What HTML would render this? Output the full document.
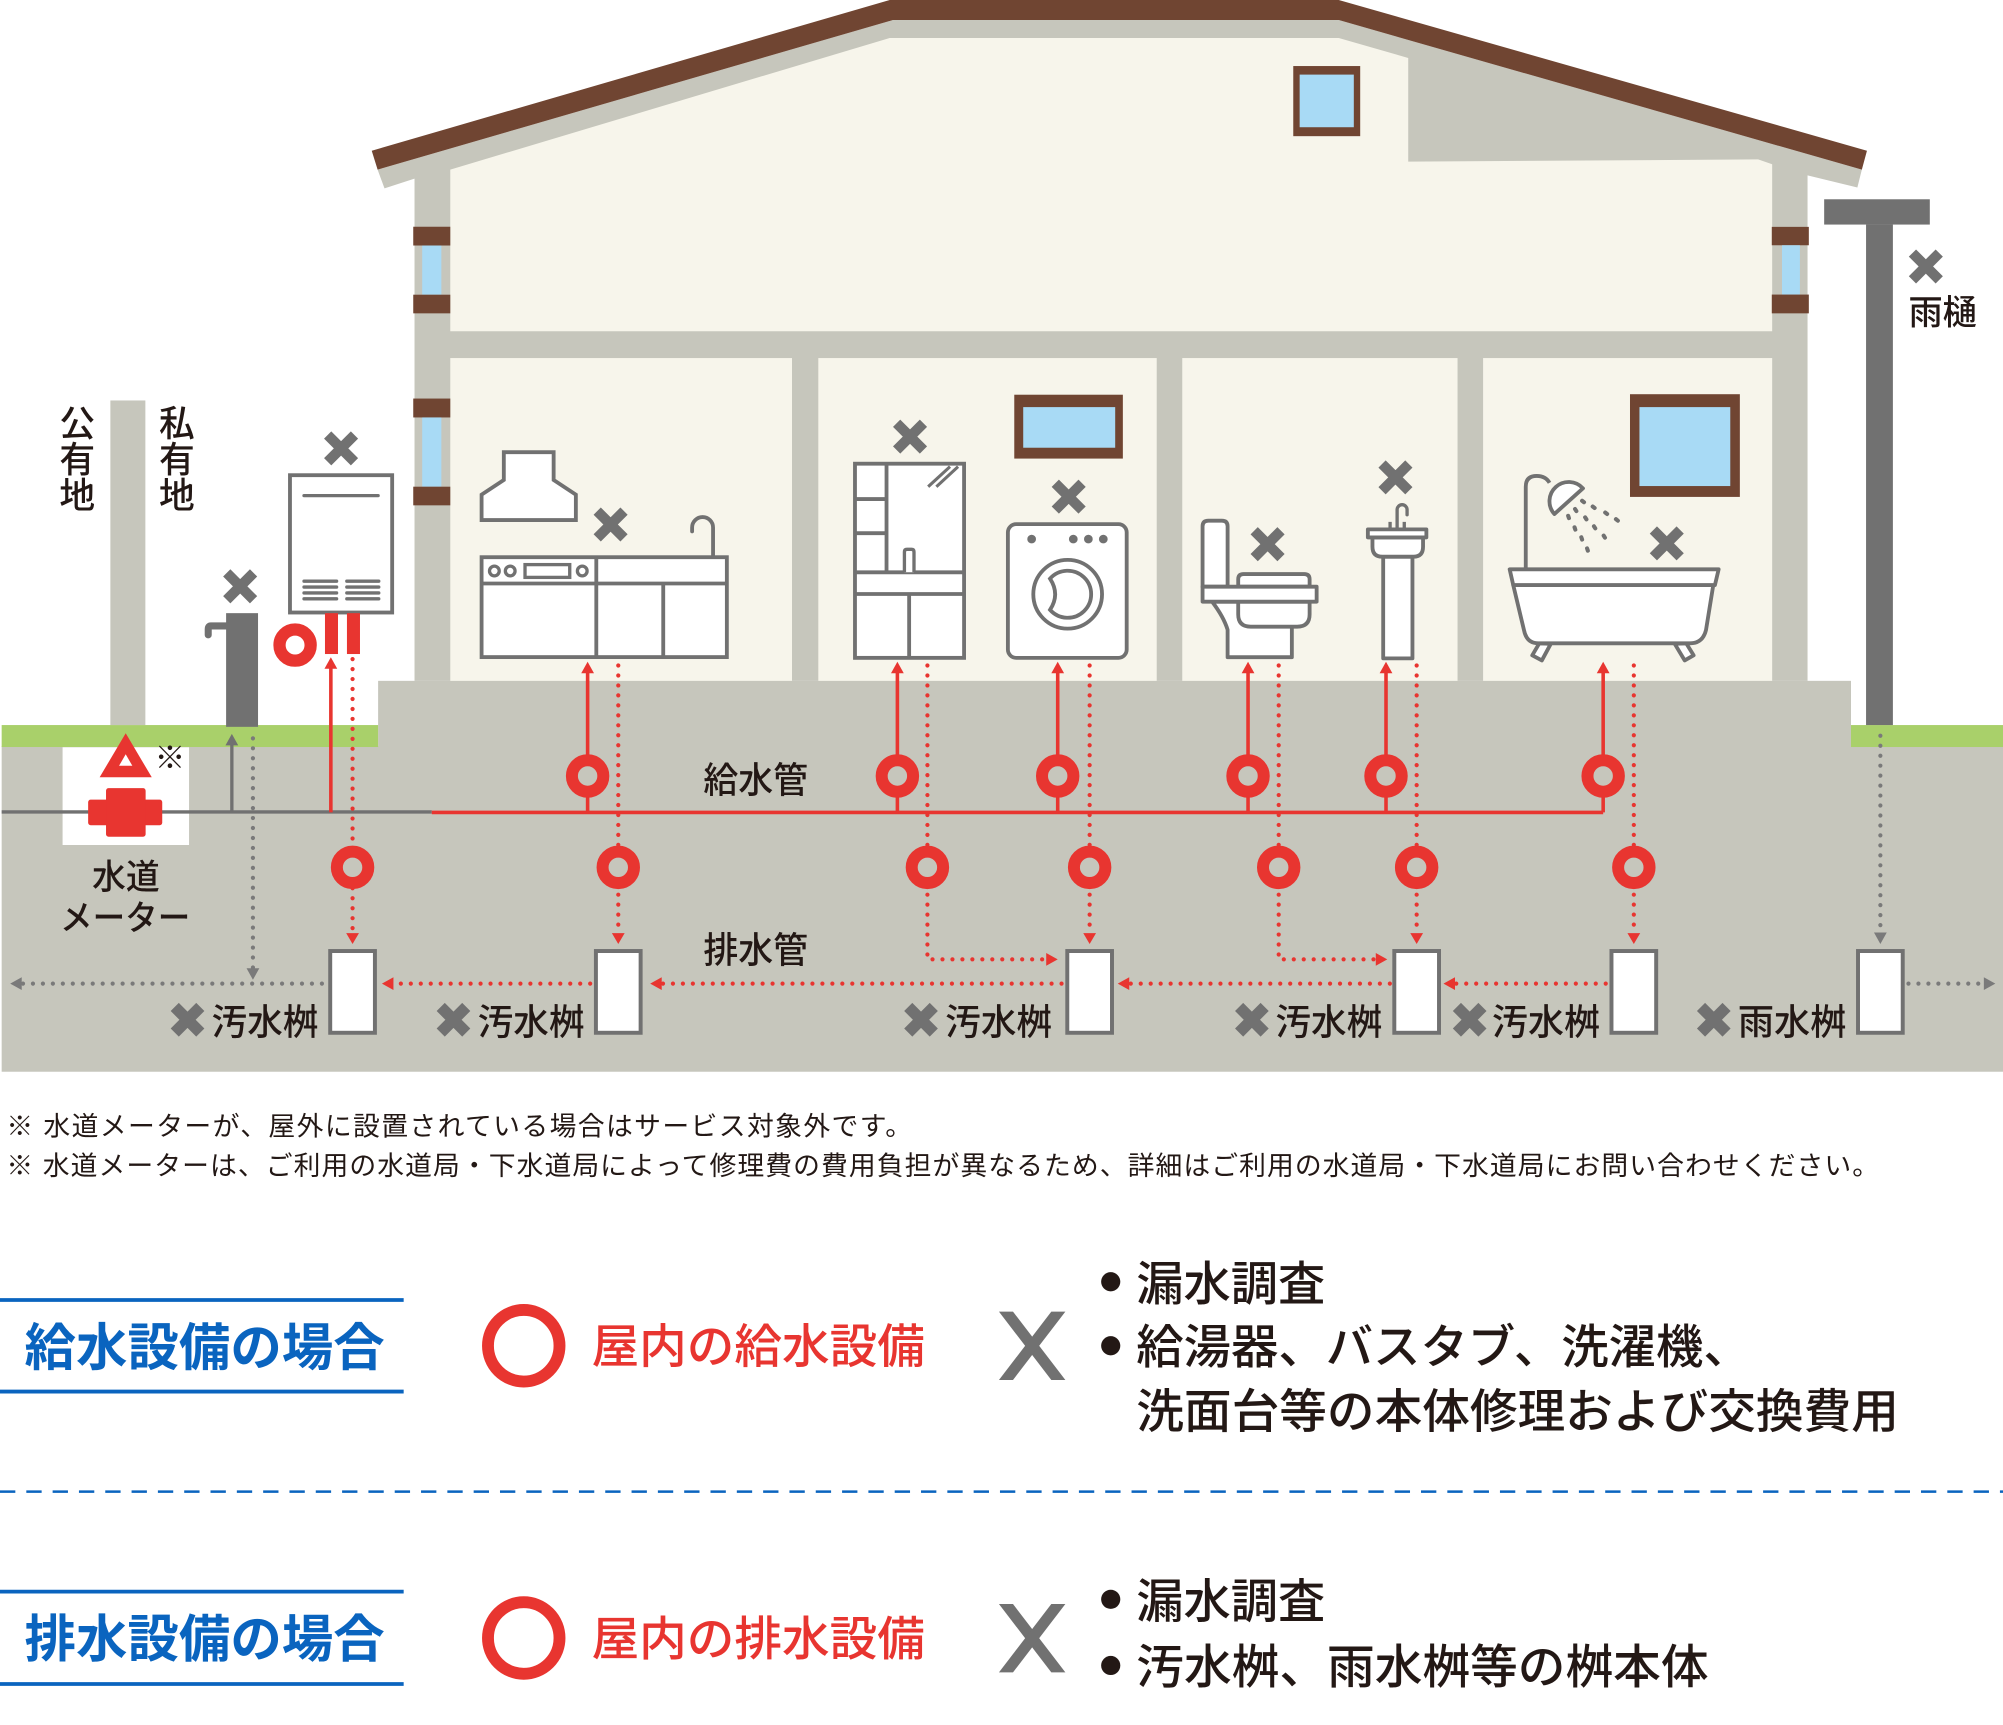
<!DOCTYPE html>
<html><head><meta charset="utf-8">
<style>
html,body{margin:0;padding:0;background:#fff;width:2003px;height:1725px;overflow:hidden;}
svg{display:block;}
text{font-family:"Liberation Sans","Noto Sans CJK JP",sans-serif;}
</style></head><body>
<svg width="2003" height="1725" viewBox="0 0 1568 1350.4" preserveAspectRatio="none" xmlns="http://www.w3.org/2000/svg">
<rect width="1568" height="1351" fill="#fff"/>

<!-- ground -->
<rect x="1.3" y="584" width="1566.7" height="255" fill="#c6c6bc"/>
<rect x="296" y="533" width="1153" height="52" fill="#c6c6bc"/>
<rect x="1.3" y="567.6" width="294.7" height="17.2" fill="#a9d06a"/>
<rect x="1449" y="567.6" width="119" height="17.2" fill="#a9d06a"/>

<!-- house body -->
<polygon fill="#c6c6bc" points="295.6,132.8 699,15.7 1048,15.7 1457.5,132.8 1454,146.8 1415,137.3 1415,533 324.5,533 324.5,139.8 301,147.5"/>
<polygon fill="#f7f5eb" points="352.5,132.8 696.5,29.7 1048,29.7 1102.4,45.4 1102.4,126.5 1376.3,124.8 1387.3,128.6 1387.3,259.3 352.5,259.3"/>
<rect fill="#f7f5eb" x="352.5" y="280.3" width="267.5" height="252.7"/>
<rect fill="#f7f5eb" x="640.6" y="280.3" width="264.9" height="252.7"/>
<rect fill="#f7f5eb" x="925.5" y="280.3" width="215.5" height="252.7"/>
<rect fill="#f7f5eb" x="1161" y="280.3" width="226.3" height="252.7"/>
<polygon fill="#704532" points="291,118 696.5,0 1048,0 1461.5,118 1457.5,132.8 1048,15.7 699,15.7 295.6,132.8"/>

<!-- wall windows left -->
<rect x="323.5" y="177.5" width="29" height="14.7" fill="#704532"/>
<rect x="330.5" y="192.2" width="15" height="38.5" fill="#a8daf5"/>
<rect x="323.5" y="230.7" width="29" height="14.6" fill="#704532"/>
<rect x="323.5" y="312" width="29" height="14.8" fill="#704532"/>
<rect x="330.5" y="326.8" width="15" height="54.2" fill="#a8daf5"/>
<rect x="323.5" y="381" width="29" height="14.6" fill="#704532"/>
<!-- wall windows right -->
<rect x="1387" y="177.6" width="29" height="14.4" fill="#704532"/>
<rect x="1395" y="192" width="14" height="38.6" fill="#a8daf5"/>
<rect x="1387" y="230.6" width="29" height="14.7" fill="#704532"/>
<!-- upper window -->
<rect x="1012.4" y="51.7" width="52.4" height="54.9" fill="#704532"/>
<rect x="1017.4" y="58.4" width="42.4" height="41.2" fill="#a8daf5"/>
<!-- washer window -->
<rect x="794" y="309" width="85" height="50" fill="#704532"/>
<rect x="801" y="318.7" width="72" height="31.8" fill="#a8daf5"/>
<!-- bath window -->
<rect x="1276" y="308.6" width="86" height="80.4" fill="#704532"/>
<rect x="1283.4" y="318.7" width="71.1" height="61.8" fill="#a8daf5"/>

<!-- boundary pole -->
<rect x="86.4" y="313.5" width="27.4" height="254.1" fill="#c6c6bc"/>
<g font-size="28" font-weight="500" fill="#231815" text-anchor="middle">
<text x="60.5" y="341.5">公</text><text x="60.5" y="369.5">有</text><text x="60.5" y="397.5">地</text>
<text x="138.5" y="341.5">私</text><text x="138.5" y="369.5">有</text><text x="138.5" y="397.5">地</text>
</g>

<!-- gutter -->
<rect x="1428" y="156" width="82.7" height="19.8" fill="#717171"/>
<rect x="1460.8" y="175.8" width="21" height="391.8" fill="#717171"/>
<text x="1494" y="254" font-size="27" font-weight="500" fill="#231815" textLength="53.5" lengthAdjust="spacingAndGlyphs">雨樋</text>

<!-- water heater -->
<g fill="#fff" stroke="#717171" stroke-width="3">
<rect x="227" y="372" width="80" height="107.5"/>
</g>
<g stroke="#717171" stroke-width="2.6" stroke-linecap="round">
<line x1="238" y1="388" x2="296" y2="388"/>
<path d="M238,455 H263.5 M238,459.6 H263.5 M238,464.2 H263.5 M238,468.8 H263.5 M271.5,455 H296.5 M271.5,459.6 H296.5 M271.5,464.2 H296.5 M271.5,468.8 H296.5"/>
</g>
<!-- red icon -->
<circle cx="231" cy="505" r="12.2" fill="#fff" stroke="#e83530" stroke-width="9.6"/>
<rect x="254.4" y="480" width="10.2" height="32" fill="#e83530"/>
<rect x="271.6" y="480" width="10.2" height="32" fill="#e83530"/>

<!-- outdoor faucet -->
<rect x="177" y="480" width="25" height="89" fill="#717171"/>
<path d="M178,490 H165 Q163,490 163,492.5 V497" fill="none" stroke="#717171" stroke-width="5.5" stroke-linecap="round"/>

<!-- kitchen -->
<g fill="#fff" stroke="#717171" stroke-width="3">
<path d="M394.4,354 H433.4 V375.7 L450.8,387.2 V407.1 H377 V387.2 L394.4,375.7 Z"/>
<rect x="377" y="436.2" width="192" height="78.2"/>
<line x1="377" y1="456.8" x2="569" y2="456.8"/>
<line x1="466.8" y1="436.2" x2="466.8" y2="514.4"/>
<line x1="519.2" y1="456.8" x2="519.2" y2="514.4"/>
<circle cx="387" cy="447" r="3.8" stroke-width="2.6"/>
<circle cx="399.4" cy="447" r="3.8" stroke-width="2.6"/>
<rect x="411" y="442" width="35" height="10" stroke-width="2.6"/>
<circle cx="455.8" cy="447" r="3.8" stroke-width="2.6"/>
<path d="M558.2,436 V413 A8.2,8.2 0 0 0 541.8,413 V416" fill="none" stroke-linecap="round"/>
</g>

<!-- vanity -->
<g fill="#fff" stroke="#717171" stroke-width="3">
<rect x="669.3" y="363" width="85.4" height="152"/>
<line x1="694" y1="363" x2="694" y2="448"/>
<line x1="669.3" y1="390.7" x2="694" y2="390.7"/>
<line x1="669.3" y1="417.4" x2="694" y2="417.4"/>
<line x1="669.3" y1="448" x2="754.7" y2="448"/>
<line x1="669.3" y1="465" x2="754.7" y2="465"/>
<line x1="711.7" y1="465" x2="711.7" y2="515"/>
<path d="M708,448 V432 Q708,430 710,430 H713.5 Q715.5,430 715.5,432 V448" stroke-width="2.6"/>
<path d="M726.6,381 L743.7,365.3 M733,381 L750,365.3" stroke-width="2.4"/>
</g>

<!-- washer -->
<g fill="#fff" stroke="#717171" stroke-width="3">
<rect x="789" y="410.3" width="93" height="104.7" rx="6.5"/>
<circle cx="835.8" cy="465.2" r="26.9"/>
<path d="M822,453 A18.4,18.4 0 1 1 822,477.4 Q830,465.2 822,453 Z"/>
</g>
<g fill="#717171">
<circle cx="807.6" cy="422" r="3.4"/><circle cx="840.2" cy="422" r="3.4"/><circle cx="852" cy="422" r="3.4"/><circle cx="863.7" cy="422" r="3.4"/>
</g>

<!-- toilet -->
<g fill="#fff" stroke="#717171" stroke-width="3" stroke-linejoin="round">
<path d="M948.9,471 Q958,483 961,493 V514.5 H1011.3 V471 Z"/>
<path d="M969.3,471 V481 Q969.3,490.6 979,490.6 H1015.5 Q1025.2,490.6 1025.2,481 V471 Z"/>
<path d="M941.4,459.3 V412 Q941.4,407.6 946,407.6 H956.5 Q961,407.6 961,412 V459.3 Z"/>
<path d="M969.3,459.3 V453.5 Q969.3,449.4 973.5,449.4 H1021 Q1025.2,449.4 1025.2,453.5 V459.3 Z"/>
<rect x="941.4" y="459.3" width="89.3" height="11.7"/>
</g>

<!-- sink -->
<g fill="#fff" stroke="#717171" stroke-width="3" stroke-linejoin="round">
<rect x="1082.8" y="435.8" width="22.9" height="79.6"/>
<path d="M1074.4,420.7 V428 Q1074.4,435.8 1082,435.8 H1106.5 Q1114,435.8 1114,428 V420.7 Z"/>
<rect x="1070.8" y="414.4" width="45.8" height="6.3"/>
<path d="M1093.7,414.4 V399 A3.9,3.9 0 0 1 1101.5,399 V403" fill="none" stroke-linecap="round" stroke-width="2.6"/>
<path d="M1088.2,408.5 V414.4 M1099.3,408.5 V414.4" stroke-width="2.6"/>
</g>

<!-- bath -->
<g fill="#fff" stroke="#717171" stroke-width="3" stroke-linejoin="round">
<polygon points="1205,503.6 1199.5,513 1207,517 1214,504"/>
<polygon points="1311,504 1318.8,517 1325.8,513 1320,503.6"/>
<path d="M1184.6,458 L1193,493.2 Q1195,503.6 1204.2,503.6 H1323 Q1333,503.6 1335.5,493.2 L1341.2,458 Z"/>
<polygon points="1181.8,445.7 1345.4,445.7 1342.5,458 1184.6,458"/>
<path d="M1194.4,445.7 V381 Q1194.4,372.6 1203,372.6 Q1210,372.6 1213,378" fill="none"/>
<path d="M1216.8,402.4 L1239.2,382.3 A15,15 0 0 0 1216.8,402.4 Z"/>
</g>
<g stroke="#717171" stroke-width="3.2" stroke-linecap="round">
<path d="M1238.5,392 l1.5,1.2 M1246.8,396.5 l1.5,1.2 M1256.6,401.2 l1.5,1.2 M1265,406.4 l1.5,1.2"/>
<path d="M1233,398.5 l1,1.6 M1240.9,405 l1,1.6 M1247.8,412 l1,1.6 M1255.4,419.3 l1,1.6"/>
<path d="M1227.6,403.8 l0.6,1.8 M1232.6,412.8 l0.6,1.8 M1237.9,420.6 l0.6,1.8 M1242.4,429.3 l0.6,1.8"/>
</g>

<!-- fixture X marks -->
<path fill="none" stroke="#717171" stroke-width="8" d="M256.5,340.5L277.5,361.5M277.5,340.5L256.5,361.5
M177.5,448.5L198.5,469.5M198.5,448.5L177.5,469.5
M467.5,400.1L488.5,421.1M488.5,400.1L467.5,421.1
M701.9,331.3L722.9,352.3M722.9,331.3L701.9,352.3
M826.1,378.3L847.1,399.3M847.1,378.3L826.1,399.3
M981.8,415.5L1002.8,436.5M1002.8,415.5L981.8,436.5
M1081.9,363.2L1102.9,384.2M1102.9,363.2L1081.9,384.2
M1294.3,414.9L1315.3,435.9M1315.3,414.9L1294.3,435.9
M1497.1,198.1L1518.1,219.1M1518.1,198.1L1497.1,219.1"/>

<!-- water meter -->
<rect x="49" y="585" width="99" height="76.5" fill="#fff"/>
<line x1="1.3" y1="635.6" x2="338" y2="635.6" stroke="#717171" stroke-width="2.6"/>
<polygon points="98.4,574 78,608.5 118.8,608.5" fill="#e83530"/>
<polygon points="98.4,590.5 93.2,599.5 103.6,599.5" fill="#fff"/>
<rect x="69" y="626" width="58" height="20" rx="2" fill="#e83530"/>
<rect x="83" y="617" width="31" height="38" rx="2" fill="#e83530"/>
<text x="121" y="601.5" font-size="24" fill="#231815">※</text>
<text x="72" y="696" font-size="27" font-weight="500" fill="#231815" textLength="53" lengthAdjust="spacingAndGlyphs">水道</text>
<text x="47" y="728" font-size="27" font-weight="500" fill="#231815" textLength="102" lengthAdjust="spacingAndGlyphs">メーター</text>

<!-- gray pipes -->
<path d="M181.5,635.6 V583" stroke="#717171" stroke-width="2.6" fill="none"/>
<polygon points="176.5,583.5 186.5,583.5 181.5,574.5" fill="#717171"/>
<g fill="none" stroke="#7a7a7a" stroke-width="3.3" stroke-linecap="round" stroke-dasharray="0 7.8">
<path d="M198,578 V758"/>
<path d="M252,770 H17"/>
<path d="M1472,576 V730"/>
<path d="M1494,770 H1553"/>
</g>
<g fill="#7a7a7a">
<polygon points="193,758 203,758 198,767"/>
<polygon points="17,765 17,775 8,770"/>
<polygon points="1467,730 1477,730 1472,739"/>
<polygon points="1553,765 1553,775 1562,770"/>
</g>

<!-- supply pipes -->
<g fill="none" stroke="#e83530" stroke-width="2.8">
<path d="M338,636 H1255"/>
<path d="M259,636 V523"/>
<path d="M460,636 V526 M702.5,636 V526 M828,636 V526 M977,636 V526 M1085,636 V526 M1255,636 V526"/>
</g>
<g fill="#e83530">
<polygon points="254,523.5 264,523.5 259,514.5"/>
<polygon points="455,527 465,527 460,518"/>
<polygon points="697.5,527 707.5,527 702.5,518"/>
<polygon points="823,527 833,527 828,518"/>
<polygon points="972,527 982,527 977,518"/>
<polygon points="1080,527 1090,527 1085,518"/>
<polygon points="1250,527 1260,527 1255,518"/>
</g>

<!-- drain pipes -->
<g fill="none" stroke="#e83530" stroke-width="3.3" stroke-linecap="round" stroke-dasharray="0 7.8">
<path d="M276,516 V731"/>
<path d="M484,521 V731"/>
<path d="M726,521 V751 H819"/>
<path d="M853,521 V731"/>
<path d="M1001,521 V751 H1077"/>
<path d="M1109,521 V731"/>
<path d="M1279,521 V731"/>
<path d="M1257,770 H1139"/>
<path d="M1088,770 H884"/>
<path d="M831,770 H518"/>
<path d="M462,770 H308"/>
</g>
<g fill="#e83530">
<polygon points="271,730.5 281,730.5 276,739"/>
<polygon points="479,730.5 489,730.5 484,739"/>
<polygon points="848,730.5 858,730.5 853,739"/>
<polygon points="1104,730.5 1114,730.5 1109,739"/>
<polygon points="1274,730.5 1284,730.5 1279,739"/>
<polygon points="819,746 819,756 828,751"/>
<polygon points="1077,746 1077,756 1086,751"/>
<polygon points="1139,765 1139,775 1130,770"/>
<polygon points="884,765 884,775 875,770"/>
<polygon points="518,765 518,775 509,770"/>
<polygon points="308,765 308,775 299,770"/>
</g>

<!-- rings -->
<g fill="#c6c6bc" stroke="#e83530" stroke-width="9.4">
<circle cx="460" cy="607.5" r="12.3"/><circle cx="702.5" cy="607.5" r="12.3"/><circle cx="828" cy="607.5" r="12.3"/>
<circle cx="977" cy="607.5" r="12.3"/><circle cx="1085" cy="607.5" r="12.3"/><circle cx="1255" cy="607.5" r="12.3"/>
<circle cx="276" cy="679" r="12.3"/><circle cx="484" cy="679" r="12.3"/><circle cx="726" cy="679" r="12.3"/>
<circle cx="853" cy="679" r="12.3"/><circle cx="1001" cy="679" r="12.3"/><circle cx="1109" cy="679" r="12.3"/>
<circle cx="1279" cy="679" r="12.3"/>
</g>

<!-- boxes -->
<g fill="#fff" stroke="#717171" stroke-width="3.1">
<rect x="258.5" y="744.5" width="35" height="64"/>
<rect x="466.5" y="744.5" width="35" height="64"/>
<rect x="835.5" y="744.5" width="35" height="64"/>
<rect x="1091.5" y="744.5" width="35" height="64"/>
<rect x="1261.5" y="744.5" width="35" height="64"/>
<rect x="1454.5" y="744.5" width="35" height="64"/>
</g>

<!-- pipe labels -->
<g font-size="28" font-weight="500" fill="#231815">
<text x="550.6" y="620.6" textLength="82" lengthAdjust="spacingAndGlyphs">給水管</text>
<text x="550.6" y="753.6" textLength="82" lengthAdjust="spacingAndGlyphs">排水管</text>
<text x="165.7" y="810" textLength="83.5" lengthAdjust="spacingAndGlyphs">汚水桝</text>
<text x="374" y="810" textLength="83.5" lengthAdjust="spacingAndGlyphs">汚水桝</text>
<text x="740" y="810" textLength="83.5" lengthAdjust="spacingAndGlyphs">汚水桝</text>
<text x="998.5" y="810" textLength="83.5" lengthAdjust="spacingAndGlyphs">汚水桝</text>
<text x="1168" y="810" textLength="84.5" lengthAdjust="spacingAndGlyphs">汚水桝</text>
<text x="1360.5" y="810" textLength="84.8" lengthAdjust="spacingAndGlyphs">雨水桝</text>
</g>
<path fill="none" stroke="#717171" stroke-width="9" d="M136.8,788.3L156.8,808.3M156.8,788.3L136.8,808.3
M345,788.3L365,808.3M365,788.3L345,808.3
M711,788.3L731,808.3M731,788.3L711,808.3
M970,788.3L990,808.3M990,788.3L970,808.3
M1140.5,788.3L1160.5,808.3M1160.5,788.3L1140.5,808.3
M1331.6,788.3L1351.6,808.3M1351.6,788.3L1331.6,808.3"/>

<!-- notes -->
<g font-size="21" fill="#231815">
<text x="5" y="889" textLength="709" lengthAdjust="spacing">※ 水道メーターが、屋外に設置されている場合はサービス対象外です。</text>
<text x="5" y="920" textLength="1466" lengthAdjust="spacing">※ 水道メーターは、ご利用の水道局・下水道局によって修理費の費用負担が異なるため、詳細はご利用の水道局・下水道局にお問い合わせください。</text>
</g>

<!-- legend -->
<g stroke="#0a64bf" stroke-width="3">
<line x1="0" y1="1017.7" x2="316" y2="1017.7"/>
<line x1="0" y1="1089.4" x2="316" y2="1089.4"/>
<line x1="0" y1="1246" x2="316" y2="1246"/>
<line x1="0" y1="1318.3" x2="316" y2="1318.3"/>
</g>
<line x1="0" y1="1167.7" x2="1568" y2="1167.7" stroke="#0a64bf" stroke-width="2" stroke-dasharray="12 8.6"/>
<g font-size="40" font-weight="700" fill="#0a64bf">
<text x="19.2" y="1069" textLength="282" lengthAdjust="spacingAndGlyphs">給水設備の場合</text>
<text x="19.2" y="1297" textLength="282" lengthAdjust="spacingAndGlyphs">排水設備の場合</text>
</g>
<g fill="#fff" stroke="#e83530" stroke-width="9.3">
<circle cx="410" cy="1053.5" r="28"/>
<circle cx="410" cy="1282.3" r="28"/>
</g>
<g font-size="37" font-weight="500" fill="#e83530">
<text x="463" y="1067" textLength="261" lengthAdjust="spacingAndGlyphs">屋内の給水設備</text>
<text x="463" y="1296" textLength="261" lengthAdjust="spacingAndGlyphs">屋内の排水設備</text>
</g>
<g fill="#717171">
<polygon points="782,1026.8 793,1026.8 834,1080.3 823,1080.3"/>
<polygon points="823,1026.8 834,1026.8 793,1080.3 782,1080.3"/>
<polygon points="782,1255.7 793,1255.7 834,1309.2 823,1309.2"/>
<polygon points="823,1255.7 834,1255.7 793,1309.2 782,1309.2"/>
</g>
<g fill="#231815">
<circle cx="869.5" cy="1003.4" r="7.5"/>
<circle cx="869.5" cy="1053.5" r="7.5"/>
<circle cx="869.5" cy="1252" r="7.5"/>
<circle cx="869.5" cy="1303.8" r="7.5"/>
</g>
<g font-size="37" font-weight="500" fill="#231815">
<text x="889.5" y="1018" textLength="148" lengthAdjust="spacingAndGlyphs">漏水調査</text>
<text x="889.5" y="1067.6" textLength="481" lengthAdjust="spacingAndGlyphs">給湯器、バスタブ、洗濯機、</text>
<text x="889.5" y="1118" textLength="597" lengthAdjust="spacingAndGlyphs">洗面台等の本体修理および交換費用</text>
<text x="889.5" y="1266.8" textLength="148" lengthAdjust="spacingAndGlyphs">漏水調査</text>
<text x="889.5" y="1318" textLength="448" lengthAdjust="spacingAndGlyphs">汚水桝、雨水桝等の桝本体</text>
</g>
</svg>
</body></html>
